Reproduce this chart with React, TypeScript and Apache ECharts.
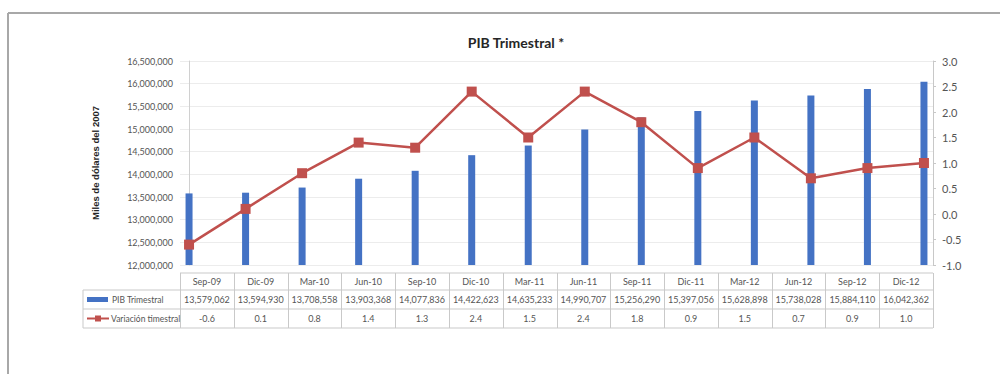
import React, { useEffect, useRef } from "react";
import * as echarts from "echarts";

const categories = ["Sep-09", "Dic-09", "Mar-10", "Jun-10", "Sep-10", "Dic-10", "Mar-11", "Jun-11", "Sep-11", "Dic-11", "Mar-12", "Jun-12", "Sep-12", "Dic-12"];
const pibValues = [13579062, 13594930, 13708558, 13903368, 14077836, 14422623, 14635233, 14990707, 15256290, 15397056, 15628898, 15738028, 15884110, 16042362];
const variacion = [-0.6, 0.1, 0.8, 1.4, 1.3, 2.4, 1.5, 2.4, 1.8, 0.9, 1.5, 0.7, 0.9, 1.0];
const seriesNames = ["PIB Trimestral", "Variación timestral"];
const title = "PIB Trimestral *";
const yAxisName = "Miles de dólares del 2007";

const FONT = "Lato, 'Noto Sans', sans-serif";
const BLUE = "#4472c4";
const RED = "#c0504d";
const TXT = "#555555";
const LINE = "#c9c9c9";

const fmt = (v: number) => v.toLocaleString("en-US");

export default function App() {
  const ref = useRef<HTMLDivElement>(null);
  useEffect(() => {
    if (!ref.current) return;
    const chart = echarts.init(ref.current, null, { renderer: "svg" });

    const gL = 180, gR = 933, gT = 61, gB = 265;
    const tabLeft = 83;
    const colW = (gR - gL) / categories.length;
    const rowY = [273, 290, 309, 328];

    const graphics: any[] = [];
    // outer frame
    graphics.push({ type: "line", shape: { x1: 8, y1: 13, x2: 1000, y2: 13 }, style: { stroke: "#a8a8a8", lineWidth: 2 } });
    graphics.push({ type: "line", shape: { x1: 8, y1: 13, x2: 8, y2: 374 }, style: { stroke: "#a8a8a8", lineWidth: 2 } });

    // table lines
    graphics.push({ type: "line", shape: { x1: gL, y1: rowY[0], x2: gR, y2: rowY[0] }, style: { stroke: LINE, lineWidth: 1 } });
    for (let r = 1; r < rowY.length; r++) {
      graphics.push({ type: "line", shape: { x1: tabLeft, y1: rowY[r], x2: gR, y2: rowY[r] }, style: { stroke: LINE, lineWidth: 1 } });
    }
    graphics.push({ type: "line", shape: { x1: tabLeft, y1: rowY[1], x2: tabLeft, y2: rowY[3] }, style: { stroke: LINE, lineWidth: 1 } });
    for (let k = 0; k <= categories.length; k++) {
      const x = Math.round(gL + colW * k) + 0.5;
      graphics.push({ type: "line", shape: { x1: x, y1: rowY[0], x2: x, y2: rowY[3] }, style: { stroke: LINE, lineWidth: 1 } });
    }
    const cellText = (txt: string, cx: number, cy: number) => ({
      type: "text",
      x: cx,
      y: cy,
      style: { text: txt, fill: TXT, font: `9px ${FONT}`, textAlign: "center", textVerticalAlign: "middle" },
    });
    categories.forEach((c, i) => {
      const cx = gL + colW * (i + 0.5);
      graphics.push(cellText(c, cx, (rowY[0] + rowY[1]) / 2));
      graphics.push(cellText(fmt(pibValues[i]), cx, (rowY[1] + rowY[2]) / 2));
      graphics.push(cellText(variacion[i].toFixed(1), cx, (rowY[2] + rowY[3]) / 2));
    });
    // legend keys
    const r1 = (rowY[1] + rowY[2]) / 2;
    const r2 = (rowY[2] + rowY[3]) / 2;
    graphics.push({ type: "rect", shape: { x: 87, y: r1 - 2.5, width: 21, height: 5 }, style: { fill: BLUE } });
    graphics.push({ type: "text", x: 112, y: r1, style: { text: seriesNames[0], fill: TXT, font: `8.5px ${FONT}`, textAlign: "left", textVerticalAlign: "middle" } });
    graphics.push({ type: "line", shape: { x1: 87, y1: r2, x2: 109, y2: r2 }, style: { stroke: RED, lineWidth: 2 } });
    graphics.push({ type: "rect", shape: { x: 95, y: r2 - 3, width: 6, height: 6 }, style: { fill: RED } });
    graphics.push({ type: "text", x: 111, y: r2, style: { text: seriesNames[1], fill: TXT, font: `8.5px ${FONT}`, textAlign: "left", textVerticalAlign: "middle" } });

    const option: any = {
      animation: false,
      backgroundColor: "#ffffff",
      title: {
        text: title,
        left: 511,
        top: 30,
        textAlign: "center",
        textStyle: { fontFamily: FONT, fontSize: 14, fontWeight: "bold", color: "#262626" },
      },
      grid: { left: gL, right: 1000 - gR, top: gT, height: gB - gT, containLabel: false },
      xAxis: {
        type: "value",
        min: -0.16,
        max: 13.16,
        show: false,
        splitLine: { show: false },
      },
      yAxis: [
        {
          type: "value",
          min: 12000000,
          max: 16500000,
          interval: 500000,
          name: yAxisName,
          nameLocation: "middle",
          nameRotate: 90,
          nameGap: 80,
          nameTextStyle: { fontFamily: "'Liberation Sans', Arial, sans-serif", fontSize: 9.5, fontWeight: "bold", color: "#262626" },
          axisLine: { show: true, lineStyle: { color: "#d0d0d0" } },
          axisTick: { show: false },
          axisLabel: { formatter: (v: number) => fmt(v), fontFamily: FONT, fontSize: 9, color: TXT, margin: 7 },
          splitLine: { show: true, lineStyle: { color: "#ececec" } },
        },
        {
          type: "value",
          min: -1,
          max: 3,
          interval: 0.5,
          position: "right",
          axisLine: { show: true, lineStyle: { color: "#c8c8c8" } },
          axisTick: { show: true, inside: false, length: 3, lineStyle: { color: "#c8c8c8" } },
          axisLabel: { formatter: (v: number) => v.toFixed(1), fontFamily: FONT, fontSize: 11, color: TXT, margin: 9 },
          splitLine: { show: false },
        },
      ],
      series: [
        {
          name: seriesNames[0],
          type: "bar",
          yAxisIndex: 0,
          barWidth: 7,
          itemStyle: { color: BLUE },
          data: pibValues.map((v, i) => [i, v]),
        },
        {
          name: seriesNames[1],
          type: "line",
          yAxisIndex: 1,
          symbol: "rect",
          symbolSize: 10,
          lineStyle: { color: RED, width: 2.5 },
          itemStyle: { color: RED },
          data: variacion.map((v, i) => [i, v]),
          z: 3,
        },
      ],
      graphic: graphics,
    };
    chart.setOption(option);
    return () => chart.dispose();
  }, []);
  return <div ref={ref} style={{ position: "fixed", left: 0, top: 0, width: 1000, height: 374, background: "#fff" }} />;
}
